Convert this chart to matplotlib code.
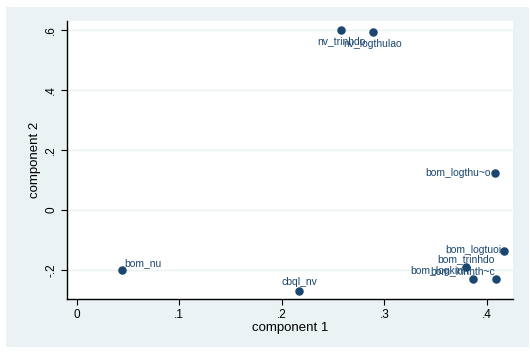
import matplotlib
matplotlib.use("Agg")
import matplotlib.pyplot as plt
from matplotlib.patches import Rectangle

# loadings (component 1, component 2)
names = ["nv_trinhdo", "nv_logthulao", "bom_logthu~o", "bom_logtuoi", "bom_trinhdo",
         "bom_logkinh", "bom_kinhth~c", "bom_nu", "cbql_nv"]
comp1 = [0.258, 0.289, 0.408, 0.417, 0.380, 0.386, 0.409, 0.044, 0.217]
comp2 = [0.601, 0.592, 0.123, -0.138, -0.190, -0.230, -0.230, -0.200, -0.271]

xticks = [0, 0.1, 0.2, 0.3, 0.4]
xtick_labels = ["0", ".1", ".2", ".3", ".4"]
yticks = [-0.2, 0, 0.2, 0.4, 0.6]
ytick_labels = ["-.2", "0", ".2", ".4", ".6"]

# label placement (offset in points, alignment)
lab_pos = {
    "nv_trinhdo": ((0, -8), "center"),
    "nv_logthulao": ((0, -8), "center"),
    "bom_logthu~o": ((-3, 0), "right"),
    "bom_logtuoi": ((-2, 1), "right"),
    "bom_trinhdo": ((0, 6), "center"),
    "bom_logkinh": ((-3, 6), "right"),
    "bom_kinhth~c": ((-1, 6), "right"),
    "bom_nu": ((2, 5), "left"),
    "cbql_nv": ((0, 7), "center"),
}

navy = "#1a476f"
bg = "#eaf2f3"

plt.rcParams["font.family"] = ["Liberation Sans", "DejaVu Sans"]

fig = plt.figure(figsize=(5.3, 3.56), dpi=100)
fig.patch.set_facecolor("white")
outer = Rectangle((6 / 530, 9 / 356), 523 / 530, 340 / 356,
                  transform=fig.transFigure, facecolor=bg,
                  edgecolor="none", zorder=-10)
fig.add_artist(outer)

ax = fig.add_axes([67 / 530, 1 - 299 / 356, 446 / 530, 278 / 356])
ax.set_zorder(1)
ax.set_facecolor("white")

ax.scatter(comp1, comp2, s=26, color=navy, zorder=3)
for n, x, y in zip(names, comp1, comp2):
    off, ha = lab_pos[n]
    ax.annotate(n, (x, y), xytext=off, textcoords="offset points",
                ha=ha, va="center", fontsize=7.5, color=navy, zorder=4)

ax.set_xlim(-0.0093, 0.4254)
ax.set_ylim(-0.2967, 0.63)
ax.set_xticks(xticks)
ax.set_xticklabels(xtick_labels)
ax.set_yticks(yticks)
ax.set_yticklabels(ytick_labels, rotation=90, va="center")

for yv in yticks:
    ax.axhline(yv, color=bg, lw=1.0, zorder=1)

for s in ["top", "right"]:
    ax.spines[s].set_visible(False)
for s in ["left", "bottom"]:
    ax.spines[s].set_linewidth(1.0)
ax.tick_params(axis="both", length=4, width=0.8, labelsize=8.5, direction="out")
ax.tick_params(axis="y", pad=3)
ax.tick_params(axis="x", pad=3)

ax.set_xlabel("component 1", fontsize=9.5, labelpad=1)
ax.set_ylabel("component 2", fontsize=9.5, labelpad=3)

fig.savefig("out.png", dpi=100)
